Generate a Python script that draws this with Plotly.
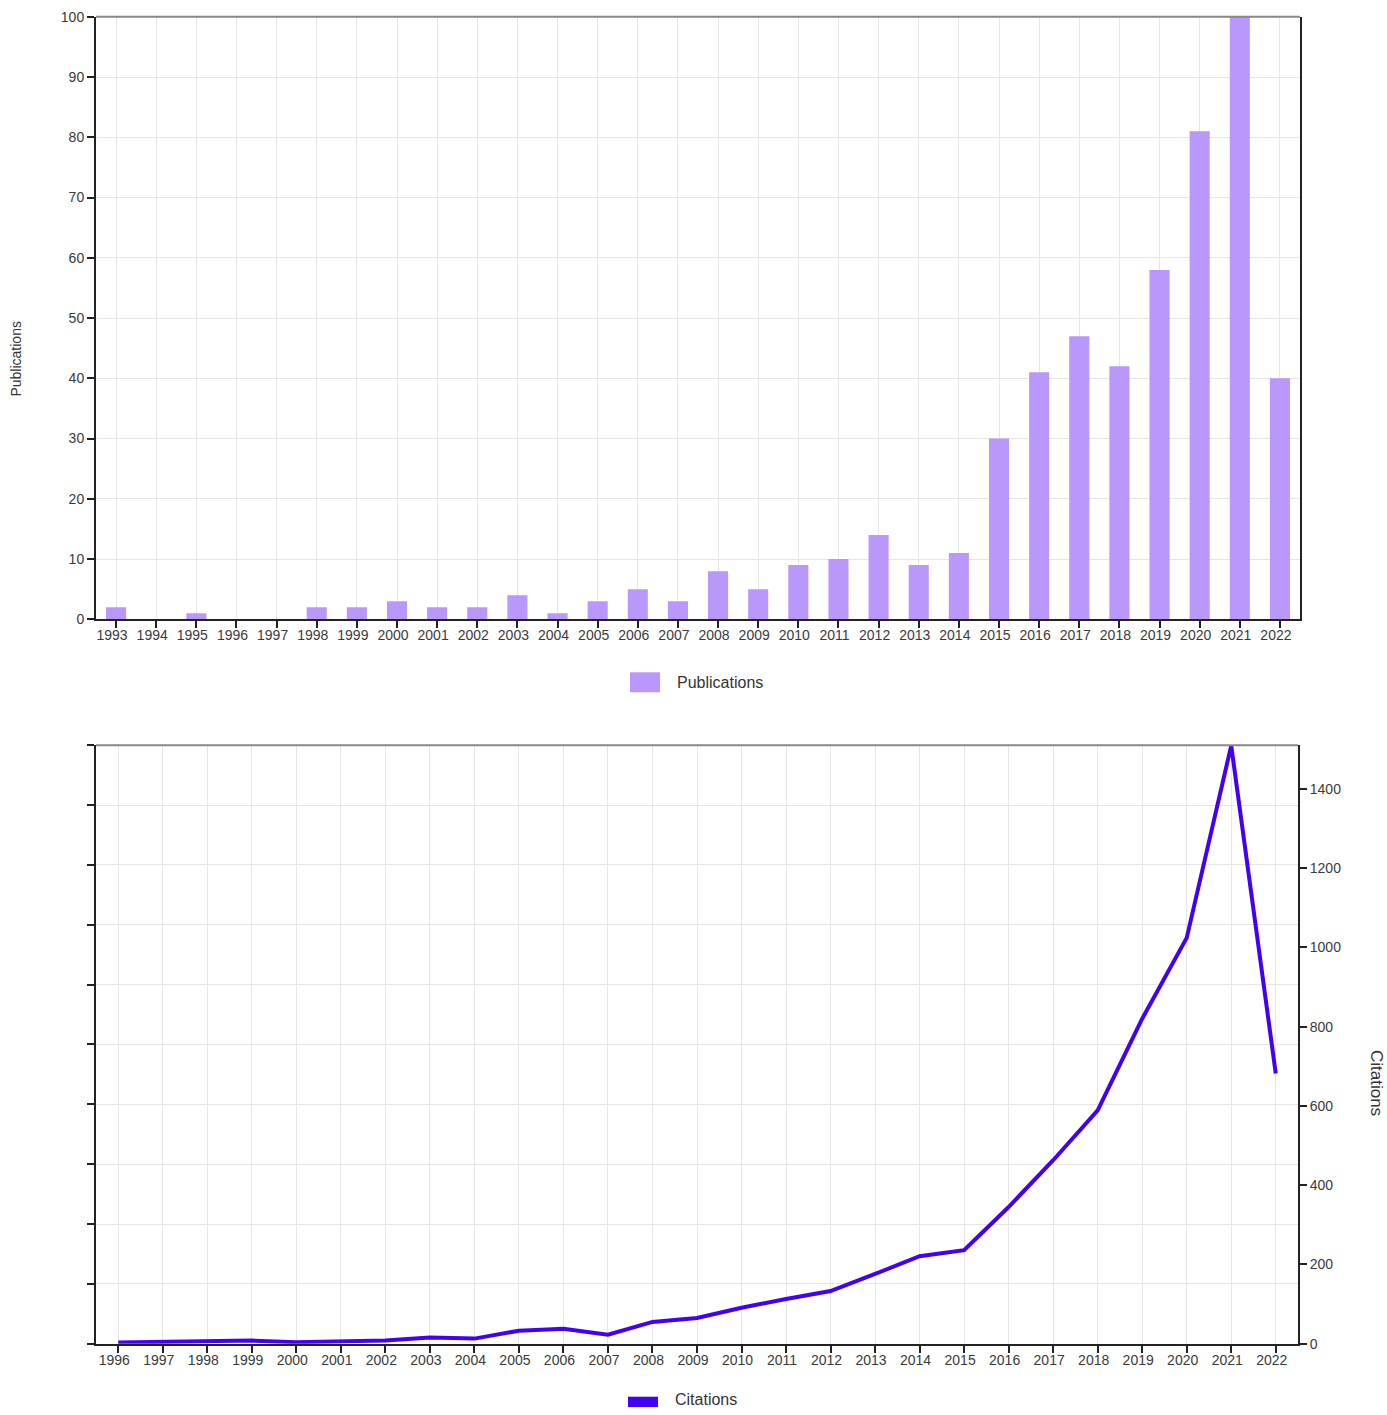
import plotly.graph_objects as go

W, H = 1387, 1415

pub_years = [str(y) for y in range(1993, 2023)]
publications = [2, 0, 1, 0, 0, 2, 2, 3, 2, 2, 4, 1, 3, 5, 3, 8, 5, 9, 10, 14,
                9, 11, 30, 41, 47, 42, 58, 81, 100, 40]

cit_years = [str(y) for y in range(1996, 2023)]
citations = [3, 5, 5, 8, 4, 7, 8, 16, 13, 33, 38, 23, 55, 65, 91, 113, 133,
             176, 221, 236, 345, 463, 589, 820, 1024, 1509, 682]

pub_ticks = list(range(0, 101, 10))
cit_ticks = list(range(0, 1501, 200))

PUB_COLOR = "#b997fb"
CIT_COLOR = "#4200f4"
FONT = "Liberation Sans, Arial, sans-serif"
TXT = "#3a3a3a"
AXC = "#222222"
GRID = "#e6e6e6"

# the photographed page is drawn slightly squeezed vertically; map target pixel rows accordingly
Y_OFF, Y_SCALE = 7.16, 0.9895


def px(x):
    return x / W


def py(y):
    yf = (y - Y_OFF) / Y_SCALE
    return 1 - yf / H


fig = go.Figure()
fig.add_trace(go.Bar(x=pub_years, y=publications, marker=dict(color=PUB_COLOR, line=dict(width=0)),
                     width=0.5, name="Publications", xaxis="x", yaxis="y", showlegend=False))
# empty helper trace so the left (grid) axis of the lower panel is drawn
fig.add_trace(go.Scatter(x=[], y=[], mode="lines", xaxis="x2", yaxis="y3",
                         showlegend=False, hoverinfo="skip"))
fig.add_trace(go.Scatter(x=cit_years, y=citations, mode="lines", line=dict(color=CIT_COLOR, width=4),
                         name="Citations", xaxis="x2", yaxis="y4", showlegend=False))

axis_common = dict(showline=True, linecolor=AXC, linewidth=2, ticks="outside", tickcolor=AXC,
                   ticklen=7, tickwidth=2, tickfont=dict(family=FONT, size=14, color=TXT),
                   gridcolor=GRID, gridwidth=1, zeroline=False)
xaxis_extra = dict(ticklabelshift=-4, ticklabelstandoff=-5)

xd_top = [px(96), px(1300)]
xd_bot = [px(96), px(1298)]

fig.update_layout(
    width=W, height=H, margin=dict(l=0, r=0, t=0, b=0),
    paper_bgcolor="white", plot_bgcolor="white", showlegend=False,
    font=dict(family=FONT, color=TXT),
    xaxis=dict(domain=xd_top, anchor="y", type="category", range=[-0.5, len(pub_years) - 0.5],
               showgrid=True, tickangle=0, **axis_common, **xaxis_extra),
    yaxis=dict(domain=[py(619), py(16)], anchor="x", range=[0, 100], tickvals=pub_ticks,
               showgrid=True, mirror=True, **axis_common),
    xaxis2=dict(domain=xd_bot, anchor="y3", type="category", categoryarray=cit_years,
                categoryorder="array", range=[-0.5, len(cit_years) - 0.5],
                showgrid=True, tickangle=0, **axis_common, **xaxis_extra),
    yaxis3=dict(domain=[py(1344), py(745)], anchor="x2", range=[0, 100], dtick=10,
                showgrid=True, showticklabels=False, **axis_common),
    yaxis4=dict(overlaying="y3", anchor="x2", side="right", range=[0, 1510], tickvals=cit_ticks,
                showgrid=False, **axis_common),
)

# top border lines (gray)
for xr, yr in (("x domain", "y domain"), ("x2 domain", "y3 domain")):
    fig.add_shape(type="line", xref=xr, yref=yr, x0=0, x1=1, y0=1, y1=1,
                  line=dict(color="#888888", width=2))

# legend swatches and labels
fig.add_shape(type="rect", xref="paper", yref="paper", x0=px(630), x1=px(660), y0=py(692), y1=py(672),
              fillcolor=PUB_COLOR, line=dict(width=0))
fig.add_annotation(xref="paper", yref="paper", x=px(675), y=py(682), text="Publications",
                   showarrow=False, xanchor="left", yanchor="middle",
                   font=dict(family=FONT, size=16, color="#333333"))
fig.add_shape(type="rect", xref="paper", yref="paper", x0=px(628), x1=px(658), y0=0, y1=py(1397),
              fillcolor=CIT_COLOR, line=dict(width=0))
fig.add_annotation(xref="paper", yref="paper", x=px(673), y=py(1400), text="Citations",
                   showarrow=False, xanchor="left", yanchor="middle",
                   font=dict(family=FONT, size=16, color="#333333"))

# axis titles
fig.add_annotation(xref="paper", yref="paper", x=px(16), y=py(358), text="Publications",
                   showarrow=False, textangle=-90, xanchor="center", yanchor="middle",
                   font=dict(family=FONT, size=14, color="#333333"))
fig.add_annotation(xref="paper", yref="paper", x=px(1376), y=py(1083), text="Citations",
                   showarrow=False, textangle=90, xanchor="center", yanchor="middle",
                   font=dict(family=FONT, size=17, color="#333333"))

post = ("document.documentElement.style.margin='0';document.body.style.margin='0';"
        "document.body.style.overflow='hidden';"
        "var d=document.getElementById('{plot_id}');"
        "d.style.position='fixed';d.style.top='0px';d.style.left='0px';")
fig.write_html("out.html", config={"displayModeBar": False}, post_script=post)
